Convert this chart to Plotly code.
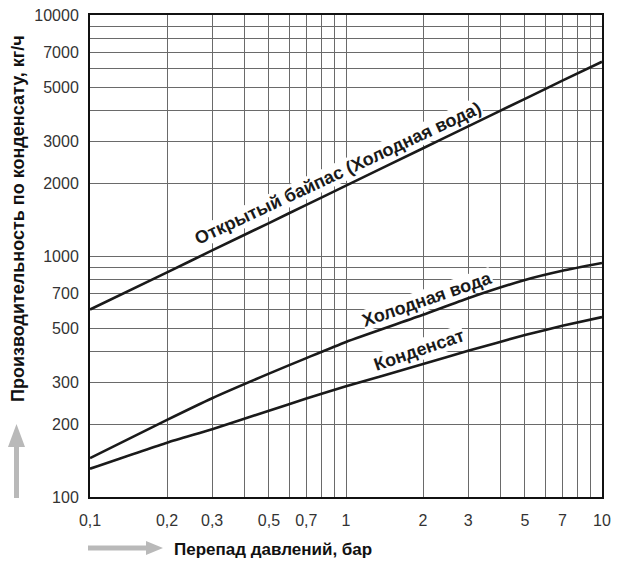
import plotly.graph_objects as go

# ---- data ----
dp = [0.1, 0.2, 0.3, 0.5, 0.7, 1, 2, 3, 5, 7, 10]
bypass = [600, 855, 1055, 1370, 1630, 1960, 2800, 3450, 4490, 5340, 6400]
cold_water = [145, 209, 257, 325, 377, 440, 570, 668, 795, 868, 935]
condensate = [131, 168, 191, 228, 256, 288, 356, 404, 470, 513, 558]

x_tickvals = [0.1, 0.2, 0.3, 0.5, 0.7, 1, 2, 3, 5, 7, 10]
x_ticktext = ["0,1", "0,2", "0,3", "0,5", "0,7", "1", "2", "3", "5", "7", "10"]
x_minor = [0.4, 0.6, 0.8, 0.9, 4, 6, 8, 9]
y_tickvals = [100, 200, 300, 500, 700, 1000, 2000, 3000, 5000, 7000, 10000]
y_ticktext = ["100", "200", "300", "500", "700", "1000", "2000", "3000", "5000", "7000", "10000"]
y_minor = [400, 600, 800, 900, 4000, 6000, 8000, 9000]

labels = ["Открытый байпас (Холодная вода)", "Холодная вода", "Конденсат"]
x_title = "Перепад давлений, бар"
y_title = "Производительность по конденсату, кг/ч"

# ---- figure geometry ----
W, H = 624, 564
PL, PR, PT, PB = 90, 602, 15, 497          # plot box in pixels
ML, MR, MT, MB = PL, W - PR, PT, H - PB
PW, PH = PR - PL, PB - PT

def px2paper(px, py):
    return (px - PL) / PW, (PB - py) / PH

fig = go.Figure()
for ys in (bypass, cold_water, condensate):
    fig.add_trace(go.Scatter(x=dp, y=ys, mode="lines",
                             line=dict(color="#1a1a1a", width=2.6, shape="spline", smoothing=0.5),
                             showlegend=False, hoverinfo="skip"))

grid = "#6a6a6a"
fig.update_xaxes(type="log", range=[-1, 1], tickvals=x_tickvals, ticktext=x_ticktext,
                 showgrid=True, gridcolor=grid, gridwidth=1,
                 minor=dict(tickvals=x_minor, showgrid=True, gridcolor=grid, gridwidth=1),
                 showline=True, linecolor="#111", linewidth=2, mirror=True,
                 ticks="", ticklabelstandoff=8, ticklabeloverflow="allow",
                 tickfont=dict(family="Liberation Sans", size=16, color="#333"),
                 zeroline=False)
fig.update_yaxes(type="log", range=[2, 4], tickvals=y_tickvals, ticktext=y_ticktext,
                 showgrid=True, gridcolor=grid, gridwidth=1,
                 minor=dict(tickvals=y_minor, showgrid=True, gridcolor=grid, gridwidth=1),
                 showline=True, linecolor="#111", linewidth=2, mirror=True,
                 ticks="", ticklabelstandoff=6, ticklabeloverflow="allow",
                 tickfont=dict(family="Liberation Sans", size=16, color="#333"),
                 zeroline=False)

lab_font = dict(family="Liberation Sans", size=18, color="#1a1a1a")
lab_pos = [(-0.030, 3.345, -25), (0.318, 2.822, -19), (0.285, 2.610, -19)]
for txt, (lx, ly, ang) in zip(labels, lab_pos):
    fig.add_annotation(x=lx, y=ly, xref="x", yref="y", text="<b>%s</b>" % txt,
                       showarrow=False, textangle=ang, font=lab_font,
                       bgcolor="white", borderpad=0)

tx, ty = px2paper(18, 219)
fig.add_annotation(x=tx, y=ty, xref="paper", yref="paper", text="<b>%s</b>" % y_title,
                   xanchor="center", yanchor="middle",
                   showarrow=False, textangle=-90, font=dict(family="Liberation Sans", size=18, color="#111"))
tx, ty = px2paper(273, 549)
fig.add_annotation(x=tx, y=ty, xref="paper", yref="paper", text="<b>%s</b>" % x_title,
                   xanchor="center", yanchor="middle",
                   showarrow=False, font=dict(family="Liberation Sans", size=17, color="#111"))

def poly(points):
    pts = [px2paper(a, b) for a, b in points]
    return "M " + " L ".join("%.5f,%.5f" % p for p in pts) + " Z"

arrow_col = "#b9b9b9"
v_arrow = [(14, 498), (19, 498), (19, 447), (25, 447), (16.5, 424), (8, 447), (14, 447)]
h_arrow = [(88, 545.5), (146, 545.5), (146, 541), (163, 548), (146, 555), (146, 550.5), (88, 550.5)]
for p in (v_arrow, h_arrow):
    fig.add_shape(type="path", path=poly(p), xref="paper", yref="paper",
                  fillcolor=arrow_col, line=dict(width=0), layer="above")

fig.update_layout(width=W, height=H, margin=dict(l=ML, r=MR, t=MT, b=MB, autoexpand=False),
                  plot_bgcolor="white", paper_bgcolor="white")
fig.write_html("out.html", config={"displayModeBar": False},
               post_script="document.body.style.margin='0';document.body.style.overflow='hidden';")
